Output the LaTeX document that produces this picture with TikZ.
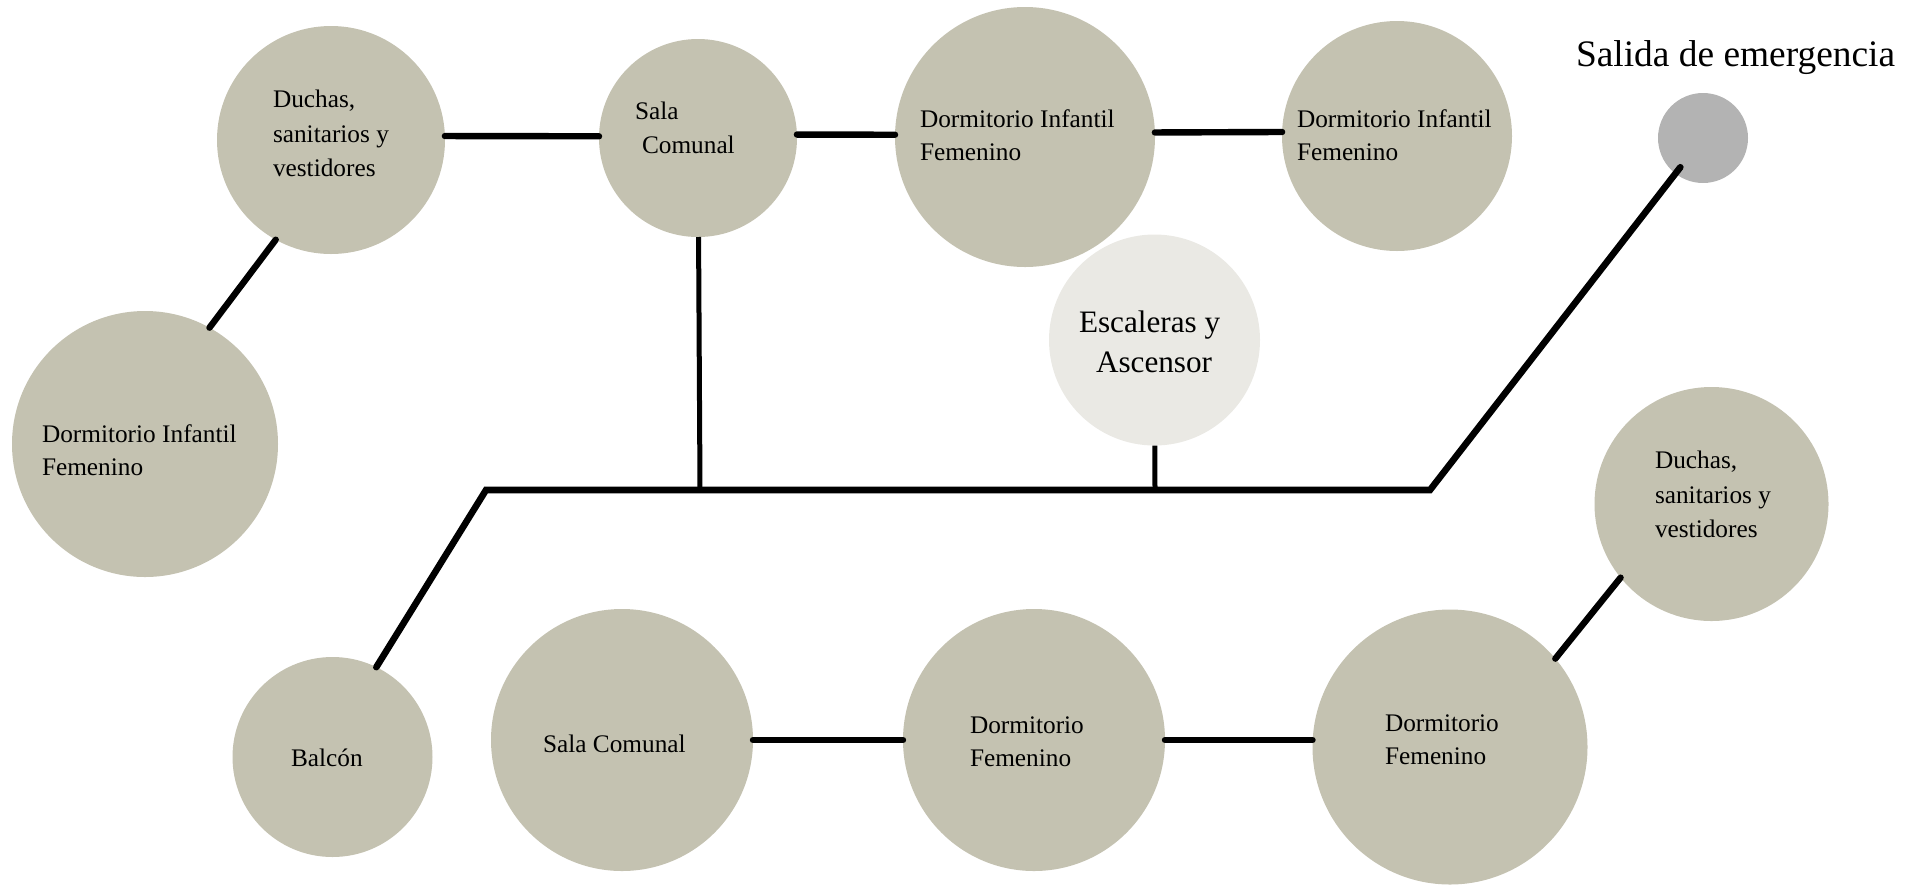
\documentclass[tikz,border=0pt]{standalone}
\usepackage{fontspec}
\setmainfont{Liberation Serif}
\definecolor{roomc}{HTML}{C4C2B1}
\definecolor{stairc}{HTML}{EAE9E4}
\definecolor{exitc}{HTML}{B3B3B3}
\begin{document}
\begin{tikzpicture}[x=0.5pt,y=-0.5pt,
  room/.style={circle,fill=roomc,draw=none,inner sep=0pt,outer sep=0pt,minimum size=#1},
  stairroom/.style={circle,fill=stairc,draw=none,inner sep=0pt,outer sep=0pt,minimum size=#1},
  exitroom/.style={circle,fill=exitc,draw=none,inner sep=0pt,outer sep=0pt,minimum size=#1},
  lbl/.style={anchor=base west,inner sep=0pt,outer sep=0pt,font=\fontsize{12.65}{15}\selectfont},
  biglbl/.style={anchor=base west,inner sep=0pt,outer sep=0pt,font=\fontsize{15.6}{18}\selectfont},
  titlelbl/.style={anchor=base west,inner sep=0pt,outer sep=0pt,font=\fontsize{18.7}{22}\selectfont},
  link/.style={line width=3.2pt,line cap=round},
  stub/.style={line width=2.5pt},
  mainline/.style={line width=3.3pt,line cap=round}]
\useasboundingbox (0,0) rectangle (1922,885);

% rooms
\node[room=114pt] (duchasA) at (331,140) {};
\node[room=99pt] (salaA) at (698,138) {};
\node[room=130pt] (dormA) at (1025,137) {};
\node[room=115pt] (dormB) at (1397,136) {};
\node[exitroom=45pt] (exit) at (1703,138) {};
\node[stairroom=105.5pt] (stairs) at (1154.5,340) {};
\node[room=133pt] (dormL) at (145,444) {};
\node[room=117pt] (duchasB) at (1711.5,504) {};
\node[room=100pt] (balcon) at (332.5,757) {};
\node[room=131pt] (salaB) at (622,740) {};
\node[room=131pt] (dormC) at (1034,740) {};
\node[room=137.5pt] (dormD) at (1450,747) {};

% junctions on the corridor
\coordinate (j1) at (486,490);
\coordinate (j2) at (700,490);
\coordinate (j3) at (1155,490);
\coordinate (j4) at (1430,490);

% connectors
\draw[link] (duchasA.2) -- (salaA.179);
\draw[link] (salaA.2) -- (dormA.179);
\draw[link] (dormA.2) -- (dormB.178);
\draw[link] (duchasA.241) -- (dormL.61);
\draw[stub] (salaA) -- (j2);
\draw[stub] (stairs) -- (j3);
\draw[mainline,shorten >=-4pt] (balcon.64) -- (j1) -- (j4) -- (exit);
\draw[link] (salaB) -- (dormC);
\draw[link] (dormC.east) -- (dormC.east -| dormD.west);
\draw[link] (dormD.40) -- (duchasB.219);

% labels
\node[lbl] (tA1) at (273,107) {Duchas,};
\node[lbl] (tA2) at (273,142) {sanitarios y};
\node[lbl] (tA3) at (273,176) {vestidores};
\node[lbl] (tB1) at (635,119) {Sala};
\node[lbl] (tB2) at (642,153) {Comunal};
\node[lbl] (tC1) at (920,127) {Dormitorio Infantil};
\node[lbl] (tC2) at (920,160) {Femenino};
\node[lbl] (tD1) at (1297,127) {Dormitorio Infantil};
\node[lbl] (tD2) at (1297,160) {Femenino};
\node[titlelbl] (tE) at (1576,66.5) {Salida de emergencia};
\node[lbl] (tF1) at (42,442) {Dormitorio Infantil};
\node[lbl] (tF2) at (42,475) {Femenino};
\node[biglbl] (tG1) at (1079,332) {Escaleras y};
\node[biglbl] (tG2) at (1096,372) {Ascensor};
\node[lbl] (tH1) at (1655,468) {Duchas,};
\node[lbl] (tH2) at (1655,503) {sanitarios y};
\node[lbl] (tH3) at (1655,537) {vestidores};
\node[lbl] (tI) at (291,766) {Balcón};
\node[lbl] (tJ) at (543,752) {Sala Comunal};
\node[lbl] (tK1) at (970,733) {Dormitorio};
\node[lbl] (tK2) at (970,766) {Femenino};
\node[lbl] (tL1) at (1385,731) {Dormitorio};
\node[lbl] (tL2) at (1385,764) {Femenino};
\end{tikzpicture}
\end{document}
